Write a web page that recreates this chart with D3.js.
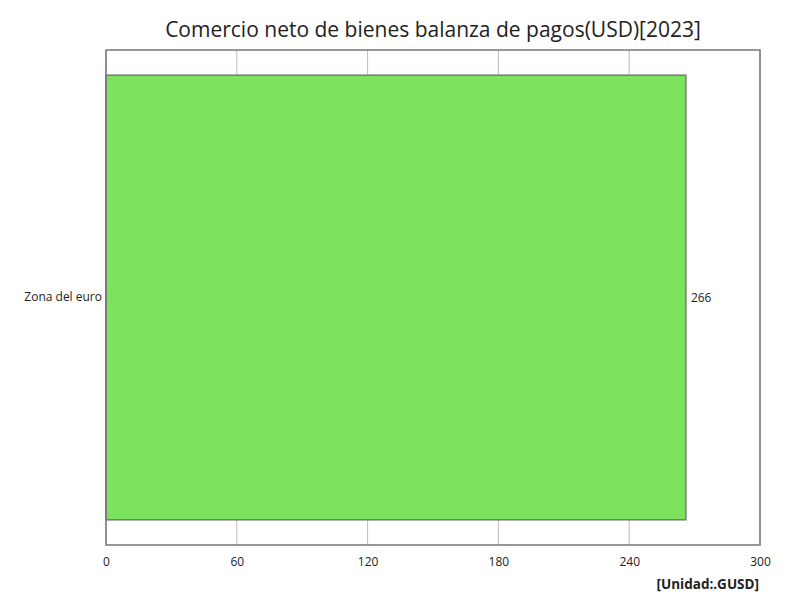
<!DOCTYPE html>
<html>
<head>
<meta charset="utf-8">
<script src="https://cdn.jsdelivr.net/npm/d3@7"></script>
<style>
  body { margin: 0; background: #fff; }
  text { font-family: "Open Sans", "Noto Sans", sans-serif; }
</style>
</head>
<body>
<div class="chart"></div>
<script>
// Chart values
const categories = ["Zona del euro"];
const values = [266];
const xTicks = [0, 60, 120, 180, 240, 300];

const width = 800;
const height = 600;
const margin = {top: 50, left: 106, right: 40, bottom: 55};
const plotRight = width - margin.right;
const plotBottom = height - margin.bottom;

const svg = d3.select('.chart')
    .append('svg')
    .attr('width', width)
    .attr('height', height);

const xScale = d3.scaleLinear()
    .domain([0, 300])
    .range([margin.left, plotRight]);

const yScale = d3.scaleBand()
    .domain(categories)
    .range([margin.top, plotBottom])
    .paddingInner(0.1)
    .paddingOuter(0.051);

// Gridlines
svg.append('g')
    .selectAll('line')
    .data(xTicks)
    .enter()
    .append('line')
    .attr('x1', d => xScale(d))
    .attr('x2', d => xScale(d))
    .attr('y1', margin.top)
    .attr('y2', plotBottom)
    .attr('stroke', '#bbbbbb')
    .attr('stroke-width', 1);

// Bars
svg.selectAll('.bar')
    .data(values)
    .enter()
    .append('rect')
    .attr('class', 'bar')
    .attr('x', xScale(0))
    .attr('y', (d, i) => yScale(categories[i]))
    .attr('width', d => xScale(d) - xScale(0))
    .attr('height', yScale.bandwidth())
    .attr('fill', '#7de35f')
    .attr('stroke', '#777777')
    .attr('stroke-width', 1.5);

// Value labels
svg.selectAll('.val')
    .data(values)
    .enter()
    .append('text')
    .attr('x', d => xScale(d) + 5)
    .attr('y', (d, i) => yScale(categories[i]) + yScale.bandwidth() / 2)
    .attr('dy', '0.35em')
    .text(d => d)
    .attr('font-size', 12)
    .attr('fill', '#222');

// Plot border
svg.append('rect')
    .attr('x', margin.left)
    .attr('y', margin.top)
    .attr('width', plotRight - margin.left)
    .attr('height', plotBottom - margin.top)
    .attr('fill', 'none')
    .attr('stroke', '#777777')
    .attr('stroke-width', 1.5);

// X axis
const xAxis = d3.axisBottom(xScale)
    .tickValues(xTicks)
    .tickSize(0)
    .tickPadding(12);

const gx = svg.append('g')
    .attr('transform', `translate(0,${plotBottom})`)
    .call(xAxis);
gx.select('.domain').remove();
gx.selectAll('text')
    .attr('font-family', '"Open Sans", "Noto Sans", sans-serif')
    .attr('font-size', 12)
    .attr('fill', '#222');

// Y axis
const yAxis = d3.axisLeft(yScale)
    .tickSize(0)
    .tickPadding(4);

const gy = svg.append('g')
    .attr('transform', `translate(${margin.left},0)`)
    .call(yAxis);
gy.select('.domain').remove();
gy.selectAll('text')
    .attr('font-family', '"Open Sans", "Noto Sans", sans-serif')
    .attr('font-size', 12)
    .attr('fill', '#222');

// Title
svg.append('text')
    .attr('x', 433)
    .attr('y', 37)
    .style('text-anchor', 'middle')
    .text('Comercio neto de bienes balanza de pagos(USD)[2023]')
    .attr('font-size', 21)
    .attr('fill', '#222');

// Unit label
svg.append('text')
    .attr('x', 759)
    .attr('y', 589)
    .style('text-anchor', 'end')
    .text('[Unidad:.GUSD]')
    .attr('font-size', 13.5)
    .attr('font-weight', 'bold')
    .attr('fill', '#222');
</script>
</body>
</html>
